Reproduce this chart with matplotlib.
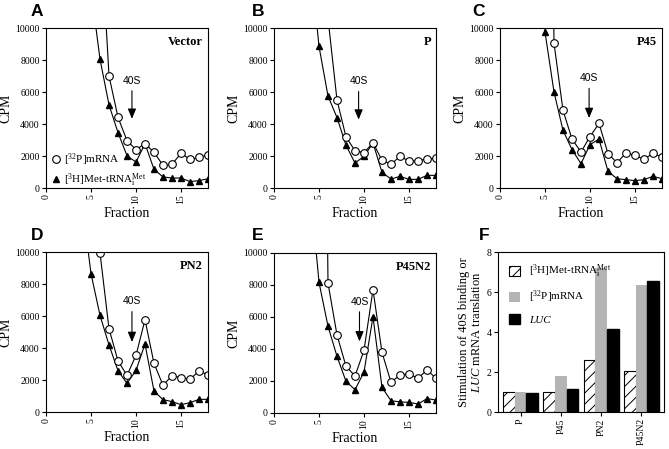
"""40S ribosome binding profiles (A-E) and stimulation summary (F)."""
import matplotlib
matplotlib.use("Agg")
import matplotlib.pyplot as plt
import numpy as np
from matplotlib.lines import Line2D
from matplotlib.patches import Patch

plt.rcParams['font.family'] = ['Liberation Serif', 'DejaVu Serif']
plt.rcParams['mathtext.fontset'] = 'custom'
plt.rcParams['mathtext.rm'] = 'Liberation Serif'
plt.rcParams['mathtext.it'] = 'Liberation Serif:italic'
plt.rcParams['mathtext.bf'] = 'Liberation Serif:bold'
plt.rcParams['hatch.linewidth'] = 0.7

# ---- gradient profiles: CPM per fraction ----
panel_letters = ["A", "B", "C", "D", "E"]
panel_names = ["Vector", "P", "P45", "PN2", "P45N2"]

mrna_start = [6, 6, 5, 5, 5]
mrna_cpm = [
    [17000, 7000, 4420, 2960, 2400, 2770, 2230, 1420, 1480, 2170, 1790, 1920, 2060],
    [10600, 5500, 3190, 2330, 2210, 2830, 1730, 1480, 1980, 1690, 1690, 1830, 1850],
    [60000, 9060, 4850, 3060, 2250, 3210, 4040, 2150, 1580, 2190, 2040, 1790, 2170, 1920],
    [30000, 9940, 5210, 3190, 2290, 3540, 5770, 3040, 1670, 2270, 2150, 2040, 2560, 2330],
    [60000, 8125, 4875, 2920, 2310, 3920, 7710, 3790, 1920, 2375, 2440, 2170, 2690, 2170],
]

met_start = [5, 4, 4, 4, 4]
met_cpm = [
    [12400, 8050, 5200, 3460, 2020, 1620, 2770, 1170, 690, 625, 625, 400, 460, 580],
    [14600, 8850, 5750, 4400, 2670, 1560, 1980, 2810, 980, 560, 730, 540, 540, 790, 790],
    [50000, 9750, 6000, 3600, 2400, 1520, 2710, 3060, 1040, 580, 520, 460, 520, 730, 580],
    [13150, 8650, 6040, 4190, 2580, 1790, 2600, 4250, 1310, 770, 650, 460, 580, 790, 790],
    [14270, 8170, 5420, 3540, 1980, 1460, 2560, 6020, 1600, 770, 690, 670, 560, 900, 810],
]

# 40S marker: fraction, arrow top, arrow tip
arrow_x = [9.55, 9.4, 9.9, 9.55, 9.5]
arrow_top = [6250, 6200, 6400, 6450, 6500]
arrow_tip = [4150, 4100, 4200, 4200, 4300]

# ---- panel F ----
constructs = ["P", "P45", "PN2", "P45N2"]
met_stim = [1.0, 0.98, 2.58, 2.03]
mrna_stim = [0.98, 1.78, 7.18, 6.33]
luc_stim = [0.97, 1.15, 4.17, 6.57]

W, H = 669, 449
fig = plt.figure(figsize=(W / 100, H / 100), dpi=100)


def add_ax(l, t, r, b):
    return fig.add_axes([l / W, 1 - b / H, (r - l) / W, (b - t) / H])


boxes = [(46, 28, 208, 188), (274, 28, 436, 188), (500, 28, 662, 188),
         (46, 252, 208, 412), (274, 253, 436, 413)]
letter_pos = [(31, 11), (252, 11), (472, 11), (31, 236), (252, 236)]

MET_LABEL = r"[$^{3}$H]Met-tRNA$_{\rm i}^{\rm Met}$"
MRNA_LABEL = r"[$^{32}$P]mRNA"

for i in range(5):
    ax = add_ax(*boxes[i])
    xm = np.arange(mrna_start[i], mrna_start[i] + len(mrna_cpm[i]))
    xt = np.arange(met_start[i], met_start[i] + len(met_cpm[i]))
    ax.plot(xt, met_cpm[i], color='black', lw=0.8, marker='^', ms=5,
            mfc='black', mec='black')
    ax.plot(xm, mrna_cpm[i], color='black', lw=0.8, marker='o', ms=5.5,
            mfc='white', mec='black', mew=0.8)
    ax.set_xlim(0, 18)
    ax.set_ylim(0, 10000)
    ax.set_xticks([0, 5, 10, 15])
    ax.set_yticks([0, 2000, 4000, 6000, 8000, 10000])
    ax.tick_params(axis='both', labelsize=7, length=3, width=0.8, pad=1.5)
    ax.tick_params(axis='x', labelrotation=90)
    for s in ax.spines.values():
        s.set_linewidth(0.8)
    ax.set_xlabel("Fraction", fontsize=10, labelpad=2)
    ax.set_ylabel("CPM", fontsize=10, labelpad=2)
    ax.text(0.97, 0.95, panel_names[i], transform=ax.transAxes, ha='right',
            va='top', fontsize=9, fontweight='bold')
    ax.annotate("", xy=(arrow_x[i], arrow_tip[i]), xytext=(arrow_x[i], arrow_top[i]),
                arrowprops=dict(arrowstyle='-|>,head_length=0.6,head_width=0.25',
                                color='black', lw=0.8))
    ax.text(arrow_x[i], arrow_top[i] + 150, "40S", ha='center', va='bottom',
            fontsize=7.5, family=['Liberation Sans', 'DejaVu Sans'])
    fig.text(letter_pos[i][0] / W, 1 - letter_pos[i][1] / H, panel_letters[i],
             fontsize=12.5, fontweight='bold', va='center',
             family=['Liberation Sans', 'DejaVu Sans'])
    if i == 0:
        handles = [Line2D([], [], ls='none', marker='o', ms=5.5, mfc='white',
                          mec='black', mew=0.8),
                   Line2D([], [], ls='none', marker='^', ms=5, color='black')]
        ax.legend(handles, [MRNA_LABEL, MET_LABEL], loc='lower left',
                  bbox_to_anchor=(0.02, -0.02), frameon=False, fontsize=8,
                  handlelength=0.8, handletextpad=0.3, borderaxespad=0.0,
                  borderpad=0.2, labelspacing=0.3)

# ---- panel F: grouped bars ----
ax = add_ax(498, 252, 664, 412)
x = np.arange(len(constructs))
bw = 0.29
ax.bar(x - bw, met_stim, bw, color='white', edgecolor='black', hatch='///', lw=0.8)
ax.bar(x, mrna_stim, bw, color='#b4b4b4', edgecolor='none')
ax.bar(x + bw, luc_stim, bw, color='black', edgecolor='black')
ax.set_xlim(-0.56, 3.56)
ax.set_ylim(0, 8)
ax.set_yticks([0, 2, 4, 6, 8])
ax.set_xticks(x)
ax.set_xticklabels(constructs)
ax.tick_params(axis='both', labelsize=7, length=3, width=0.8, pad=1.5)
ax.tick_params(axis='x', labelrotation=90)
for s in ax.spines.values():
    s.set_linewidth(0.8)
ax.set_ylabel("Stimulation of 40S binding or\n$\\it{LUC}$ mRNA translation",
              fontsize=9, labelpad=3, linespacing=1.0)
leg_handles = [Patch(facecolor='white', edgecolor='black', hatch='///', lw=0.8),
               Patch(facecolor='#b4b4b4', edgecolor='none'),
               Patch(facecolor='black', edgecolor='black')]
leg = ax.legend(leg_handles, [MET_LABEL, MRNA_LABEL, "LUC"], loc='upper left',
                frameon=False, fontsize=8, handlelength=1.0, handleheight=1.0,
                handletextpad=0.8, labelspacing=0.75, borderaxespad=0.6)
leg.get_texts()[2].set_fontstyle('italic')
fig.text(479 / W, 1 - 236 / H, "F", fontsize=12.5, fontweight='bold', va='center',
         family=['Liberation Sans', 'DejaVu Sans'])

fig.savefig("out.png", dpi=100)
